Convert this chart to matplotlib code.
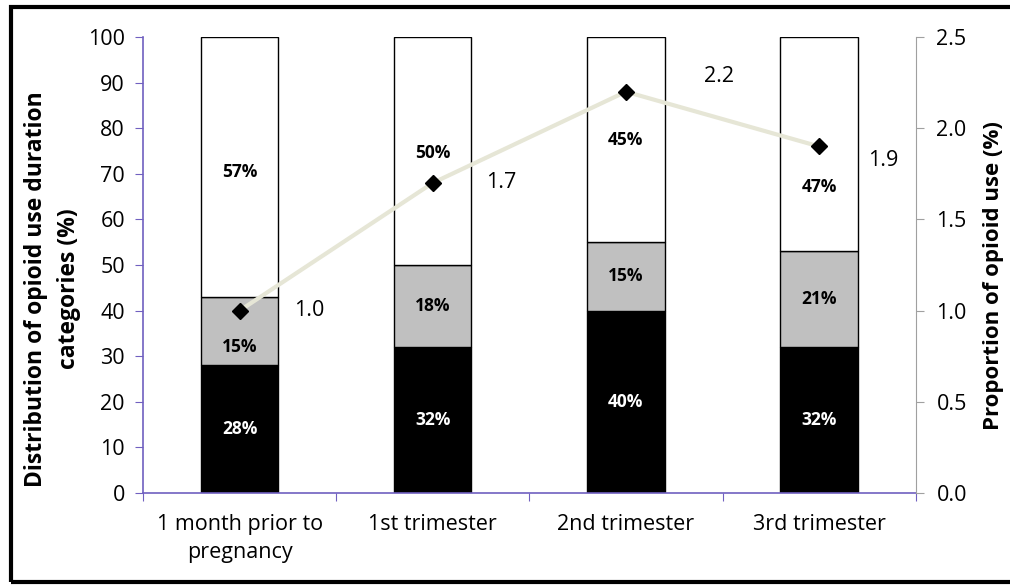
import matplotlib.pyplot as plt
from matplotlib.patches import Rectangle

plt.rcParams['font.family'] = ['Open Sans', 'DejaVu Sans']

# data
periods = ["1 month prior to\npregnancy", "1st trimester", "2nd trimester", "3rd trimester"]
short_use = [28, 32, 40, 32]
mid_use = [15, 18, 15, 21]
long_use = [57, 50, 45, 47]
opioid_prop = [1.0, 1.7, 2.2, 1.9]

fig = plt.figure(figsize=(10.1, 5.87), dpi=100)
ax = fig.add_axes([0.1416, 0.16, 0.765, 0.777])

x = range(len(periods))
w = 0.4
ax.bar(x, short_use, w, color="black", edgecolor="black", linewidth=1, zorder=2)
ax.bar(x, mid_use, w, bottom=short_use, color="#c0c0c0", edgecolor="black", linewidth=1, zorder=2)
bot2 = [a + b for a, b in zip(short_use, mid_use)]
ax.bar(x, long_use, w, bottom=bot2, color="white", edgecolor="black", linewidth=1, zorder=2)

fs_pct = 12.5
for i in x:
    ax.text(i, short_use[i] / 2, f"{short_use[i]}%", ha="center", va="center",
            color="white", fontsize=fs_pct, fontweight="bold", zorder=3)
    ymid = short_use[i] + mid_use[i] / 2
    if i == 0:
        ymid = 32
    ax.text(i, ymid, f"{mid_use[i]}%", ha="center", va="center",
            color="black", fontsize=fs_pct, fontweight="bold", zorder=3)
ax.text(0, 70.5, f"{long_use[0]}%", ha="center", va="center", fontsize=fs_pct, fontweight="bold")
ax.text(1, 74.5, f"{long_use[1]}%", ha="center", va="center", fontsize=fs_pct, fontweight="bold")
ax.text(2, 77.5, f"{long_use[2]}%", ha="center", va="center", fontsize=fs_pct, fontweight="bold")
ax.text(3, 67, f"{long_use[3]}%", ha="center", va="center", fontsize=fs_pct, fontweight="bold")

ax.set_xlim(-0.5, len(periods) - 0.5)
ax.set_ylim(0, 100)
ax.set_yticks(range(0, 101, 10))
ax.set_xticks([i - 0.5 for i in range(len(periods) + 1)], minor=False)
ax.set_xticklabels([])
ax.set_xticks(list(x), minor=True)
ax.set_xticklabels(periods, minor=True, fontsize=15.5, linespacing=1.45)
ax.tick_params(axis="x", which="minor", length=0, pad=15)
ax.tick_params(axis="x", which="major", length=6, color="#7060c0", direction="out")
ax.tick_params(axis="y", length=6, color="#7060c0", labelsize=15.5, direction="out", pad=7)
for s in ["top", "right"]:
    ax.spines[s].set_visible(False)
ax.spines["left"].set_color("#7060c0")
ax.spines["bottom"].set_color("#7060c0")
ax.spines["left"].set_linewidth(1.2)
ax.spines["bottom"].set_linewidth(1.2)

ax2 = ax.twinx()
ax2.plot(list(x), opioid_prop, color="#e6e6d6", linewidth=3, marker="D", markersize=8,
         markerfacecolor="black", markeredgecolor="black", zorder=4)
ax2.set_ylim(0, 2.5)
ax2.set_yticks([0, 0.5, 1.0, 1.5, 2.0, 2.5])
ax2.set_yticklabels([f"{v:.1f}" for v in [0, 0.5, 1.0, 1.5, 2.0, 2.5]])
ax2.tick_params(axis="y", length=6, color="#a0a0a0", labelsize=15.5, pad=9)
for s in ["top", "left", "bottom"]:
    ax2.spines[s].set_visible(False)
ax2.spines["right"].set_color("#a0a0a0")

offsets = [(50, 0), (49, 0), (67, 11), (46, -10)]
for i, v in enumerate(opioid_prop):
    ax2.annotate(f"{v:.1f}", (i, v), xytext=offsets[i], textcoords="offset points",
                 ha="center", va="center", fontsize=15.5)

fig.text(0.052, 0.508, "Distribution of opioid use duration\ncategories (%)", rotation=90,
         ha="center", va="center", fontsize=16.5, fontweight="bold", linespacing=1.5)
fig.text(0.984, 0.53, "Proportion of opioid use (%)", rotation=90,
         ha="center", va="center", fontsize=16, fontweight="bold")

fig.add_artist(Rectangle((0.011, 0.008), 0.99, 0.98, transform=fig.transFigure,
                         fill=False, edgecolor="black", linewidth=3))

fig.savefig("out.png", dpi=100)
